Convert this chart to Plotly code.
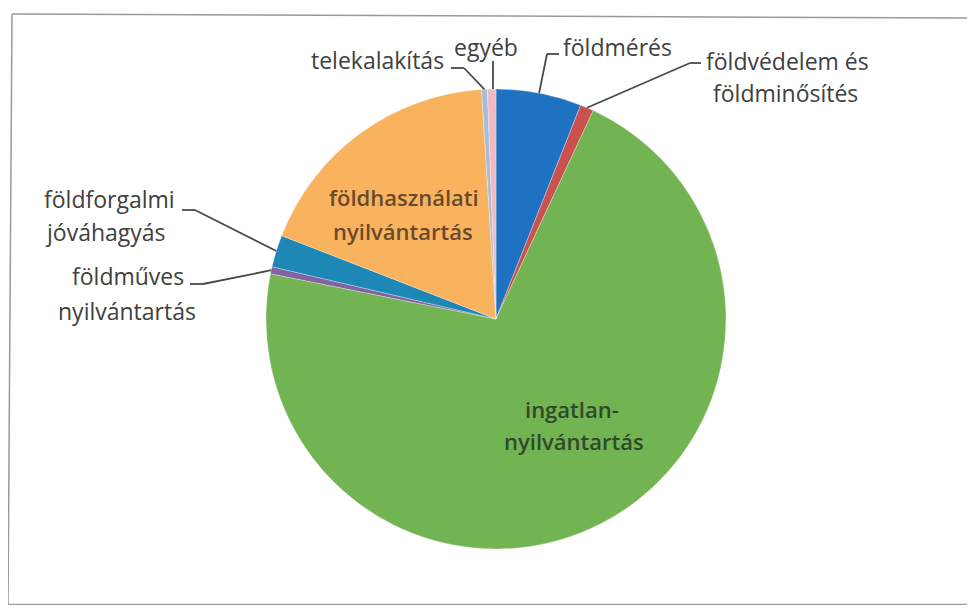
import math
import plotly.graph_objects as go

# slices, clockwise from 12 o'clock
labels = ['földmérés', 'földvédelem és földminősítés', 'ingatlan-nyilvántartás',
          'földműves nyilvántartás', 'földforgalmi jóváhagyás',
          'földhasználati nyilvántartás', 'telekalakítás', 'egyéb']
values = [6.0, 0.95, 71.2, 0.5, 2.25, 18.1, 0.4, 0.6]
colors = ['#1f72c2', '#c9524e', '#72b352', '#8064a2', '#1d87b5',
          '#f9b35f', '#a4bddc', '#f2b9c0']

# the page body has an 8px margin, so the figure is made 16px smaller
OFF = 8
W, H = 975 - 2 * OFF, 613 - 2 * OFF
CX, CY, R = 496, 319, 230   # pie centre / radius in page pixels


def px(x):
    return (x - OFF) / W


def py(y):
    return 1 - (y - OFF) / H


def edge_point(i, k=1.0):
    # point on the rim at the middle of slice i
    tot = sum(values)
    a = (sum(values[:i]) + values[i] / 2) / tot * 2 * math.pi
    return CX + k * R * math.sin(a), CY - k * R * math.cos(a)


def segments(pts, color, width):
    out = []
    for (x0, y0), (x1, y1) in zip(pts[:-1], pts[1:]):
        out.append(dict(type='line', xref='paper', yref='paper',
                        x0=px(x0), y0=py(y0), x1=px(x1), y1=py(y1),
                        line=dict(color=color, width=width)))
    return out


fig = go.Figure(go.Pie(
    labels=labels, values=values, sort=False, direction='clockwise', rotation=0,
    marker=dict(colors=colors, line=dict(color='white', width=0.3)),
    textinfo='none', hoverinfo='label+percent', showlegend=False,
    domain=dict(x=[px(CX - R), px(CX + R)], y=[py(CY + R), py(CY - R)]),
))

font = dict(family='Open Sans, Lato, sans-serif', size=23, color='#404040')

# outside labels: slice index, lines of text with (x, y), anchor, leader path points
outside = [
    (6, [('telekalakítás', 446, 60)], 'right', [(451, 68), (464, 68)]),
    (7, [('egyéb', 486, 47)], 'center', [(493, 61)]),
    (0, [('földmérés', 561, 47)], 'left', [(559, 54), (547, 54)]),
    (1, [('földvédelem és', 787, 61), ('földminősítés', 785, 93)], 'center',
     [(701, 63), (690, 63)]),
    (4, [('földforgalmi', 42, 199), ('jóváhagyás', 43, 232)], 'left',
     [(182, 210), (195, 210)]),
    (3, [('földműves', 128, 276), ('nyilvántartás', 127, 311)], 'center',
     [(190, 284), (203, 284)]),
]

shapes = []
annotations = []
for i, lines, xa, pts in outside:
    ex, ey = edge_point(i, 1.0)
    if i == 7:
        ex = pts[0][0]
    shapes += segments(pts + [(ex, ey)], '#4a4a4a', 1.8)
    for txt, lx, ly in lines:
        annotations.append(dict(text=txt, x=px(lx), y=py(ly), xref='paper', yref='paper',
                                xanchor=xa, yanchor='middle', showarrow=False, font=font))

# inside labels
inside = [
    ('földhasználati', 404, 197, '#6b4a2c'), ('nyilvántartás', 403, 231, '#6b4a2c'),
    ('ingatlan-', 572, 409, '#2f4a2b'), ('nyilvántartás', 574, 441, '#2f4a2b'),
]
for txt, lx, ly, c in inside:
    annotations.append(dict(text=txt, x=px(lx), y=py(ly), xref='paper', yref='paper',
                            xanchor='center', yanchor='middle', showarrow=False,
                            font=dict(family='Open Sans, sans-serif', size=22,
                                      weight=600, color=c)))

# scanned frame (top edge, left edge, bottom edge; right edge is off the page)
shapes += segments([(OFF + W, 18), (12, 14), (8, 604.5), (OFF + W, 604.5)], '#9a9a9a', 1.5)

fig.update_layout(width=W, height=H, margin=dict(l=0, r=0, t=0, b=0),
                  paper_bgcolor='white', plot_bgcolor='white',
                  shapes=shapes, annotations=annotations)

fig.write_html("out.html")
